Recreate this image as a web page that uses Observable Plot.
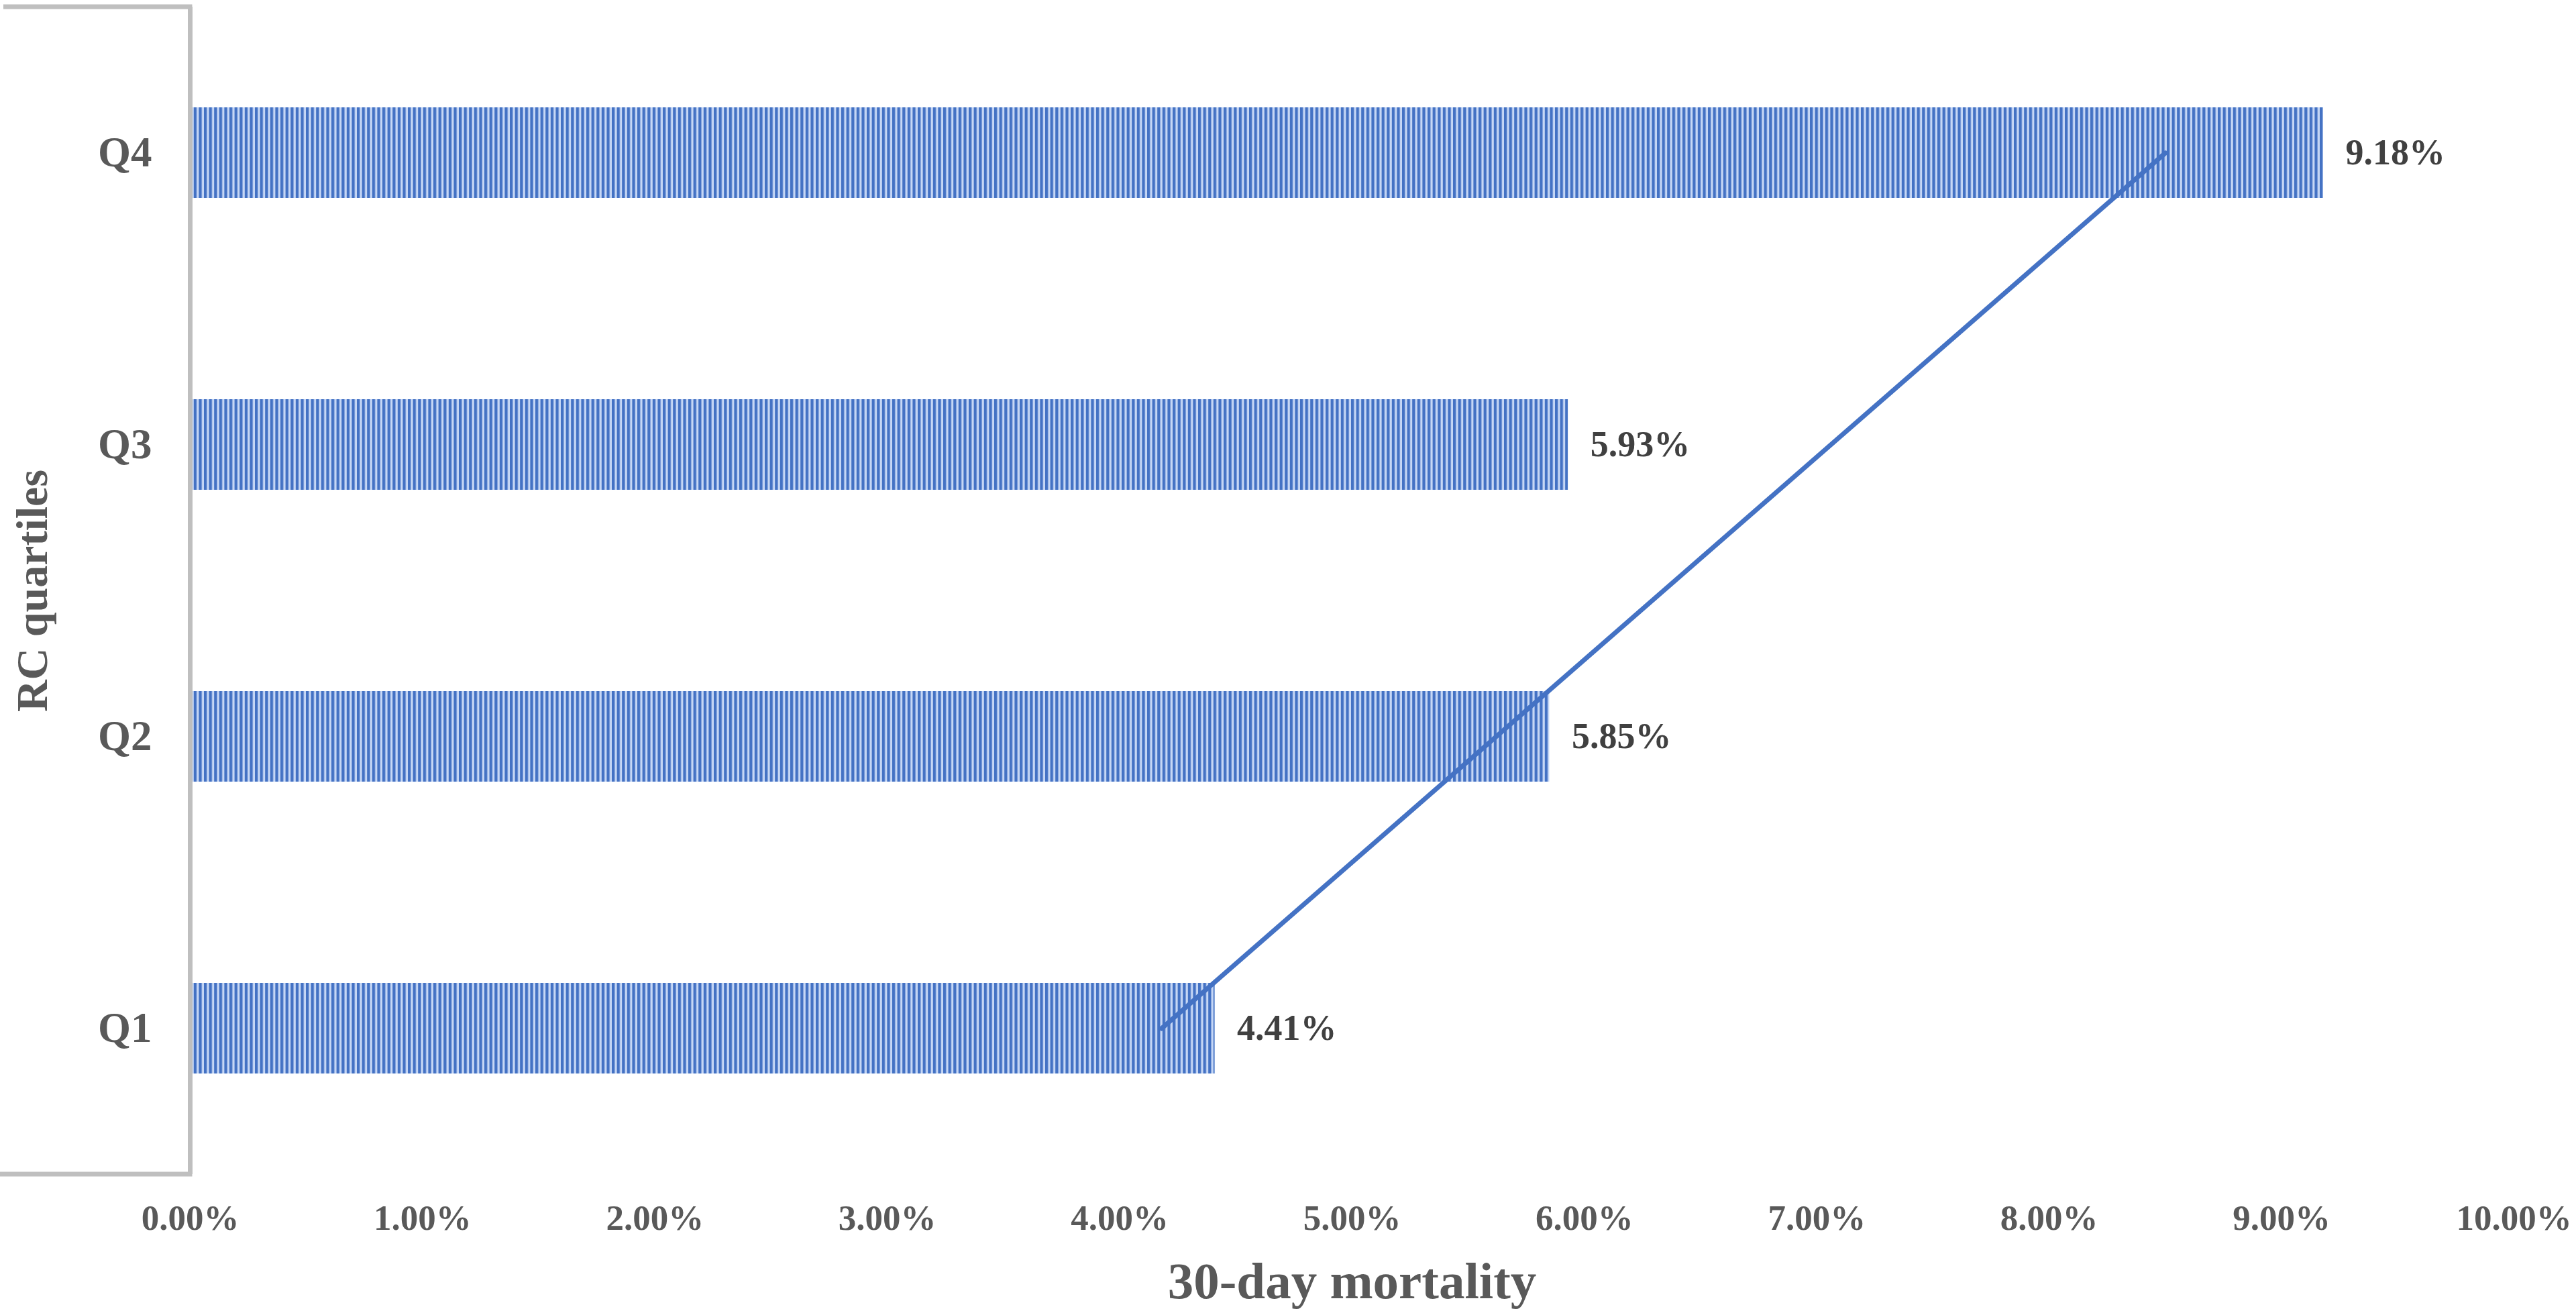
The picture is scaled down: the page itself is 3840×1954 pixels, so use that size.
<!DOCTYPE html>
<html>
<head>
<meta charset="utf-8">
<script src="https://cdn.jsdelivr.net/npm/d3@7"></script>
<script src="https://cdn.jsdelivr.net/npm/@observablehq/plot@0.6"></script>
<style>
  html, body { margin: 0; padding: 0; background: #ffffff; overflow: hidden; }
  #chart svg { display: block; }
</style>
</head>
<body>
<div id="chart"></div>
<script>
// ---- data ----
const quartiles = ["Q4", "Q3", "Q2", "Q1"];
const mortality = [9.18, 5.93, 5.85, 4.41];   // 30-day mortality, %
const xTicks = [0, 1, 2, 3, 4, 5, 6, 7, 8, 9, 10];
const trendQuartiles = ["Q1", "Q4"];
const trendValues = [4.18, 8.50];              // linear trend line ends, %
const xTitle = "30-day mortality";
const yTitle = "RC quartiles";

const bars = quartiles.map((q, i) => ({q, v: mortality[i]}));
const trend = trendQuartiles.map((q, i) => ({q, v: trendValues[i]}));

const FONT = "'Liberation Serif', 'Times New Roman', serif";
const pct = d => d.toFixed(2) + "%";

const chart = Plot.plot({
  width: 3840,
  height: 1954,
  marginLeft: 283,
  marginRight: 93,
  marginTop: 10,
  marginBottom: 204,
  style: {fontFamily: FONT, background: "#ffffff", overflow: "visible"},
  x: {domain: [0, 10]},
  y: {domain: quartiles, paddingInner: 0.69, paddingOuter: 0.345},
  marks: [
    Plot.barX(bars, {x: "v", y: "q", fill: "url(#vstripes)"}),
    Plot.line(trend, {x: "v", y: "q", stroke: "#4472C4", strokeWidth: 7, strokeLinecap: "round"}),
    Plot.text(bars, {x: "v", y: "q", text: d => pct(d.v), dx: 33, textAnchor: "start",
      fontSize: 54, fontWeight: "bold", fill: "#404040"}),
    Plot.ruleX([0], {stroke: "#BFBFBF", strokeWidth: 7}),
    Plot.axisX({ticks: xTicks, tickFormat: pct, tickSize: 0, tickPadding: 45,
      fontSize: 53, fontWeight: "bold", fill: "#595959", label: null}),
    Plot.axisY({tickSize: 0, tickPadding: 57, fontSize: 63, fontWeight: "bold",
      fill: "#595959", label: null}),
    Plot.text([xTitle], {frameAnchor: "bottom", dy: 160, lineAnchor: "middle", textAnchor: "middle",
      fontSize: 77, fontWeight: "bold", fill: "#595959"}),
    Plot.text([yTitle], {frameAnchor: "left", dx: -235, rotate: -90, lineAnchor: "middle", textAnchor: "middle",
      fontSize: 66, fontWeight: "bold", fill: "#595959"})
  ]
});

// pattern definition for the striped bars
const svg = d3.select(chart);
const defs = svg.insert("defs", ":first-child");
const pat = defs.append("pattern")
  .attr("id", "vstripes")
  .attr("patternUnits", "userSpaceOnUse")
  .attr("width", 7.6).attr("height", 20);
pat.append("rect").attr("width", 7.6).attr("height", 20).attr("fill", "#C6D7F5");
pat.append("rect").attr("x", 0).attr("width", 4.3).attr("height", 20).attr("fill", "#4472C4");

// bracket ends of the category axis, positioned from the plot's own scales
const sx = chart.scale("x");
const sy = chart.scale("y");
const x0 = sx.apply(0);
const [yTop, yBot] = sy.range;
const g = svg.append("g").attr("stroke", "#BFBFBF").attr("stroke-width", 7);
g.append("line").attr("x1", 5).attr("x2", x0 + 3.5).attr("y1", yTop).attr("y2", yTop);
g.append("line").attr("x1", 0).attr("x2", x0 + 3.5).attr("y1", yBot).attr("y2", yBot);

document.getElementById("chart").appendChild(chart);
</script>
</body>
</html>
